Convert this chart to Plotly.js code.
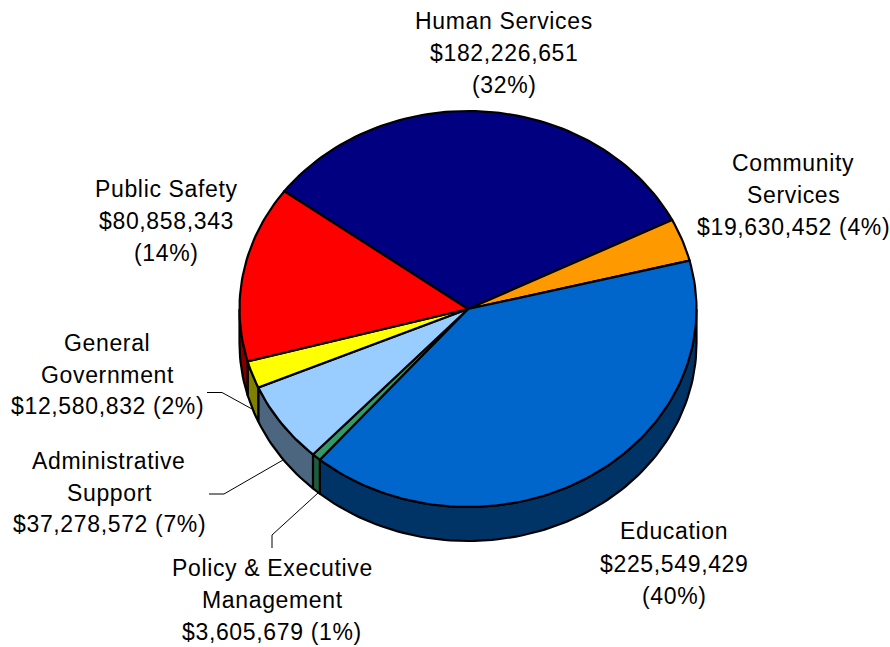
<!DOCTYPE html>
<html><head><meta charset="utf-8">
<script src="https://cdn.plot.ly/plotly-3.0.1.min.js"></script>
<style>html,body{margin:0;padding:0;background:#fff}#c{width:890px;height:647px}
.annotation-text{letter-spacing:.65px}</style>
</head><body><div id="c"></div>
<script>
// Clockwise from Human Services
const categories = ["Human Services","Community Services","Education","Policy & Executive Management","Administrative Support","General Government","Public Safety"];
const budgetValues = [182226651,19630452,225549429,3605679,37278572,12580832,80858343];
const topColors = ["#000080","#FF9900","#0066CC","#339966","#99CCFF","#FFFF00","#FF0000"];
const sideColors = ["#000040","#804D00","#003366","#1F5C3D","#4D6680","#808000","#800000"];
const labelLines = [
 ["Human Services","$182,226,651","(32%)"],
 ["Community","Services","$19,630,452 (4%)"],
 ["Education","$225,549,429","(40%)"],
 ["Policy & Executive","Management","$3,605,679 (1%)"],
 ["Administrative","Support","$37,278,572 (7%)"],
 ["General","Government","$12,580,832 (2%)"],
 ["Public Safety","$80,858,343","(14%)"]
];
// layout in pixels
const W=890,H=647,cx=468,cy=309,rx=228.5,ry=198,depth=34,startDeg=-53.5;
const labelPos=[[504,21],[793,163],[674,531],[272,568],[109,461],[107,343],[166,189]];
const lineGap=[32,32,32.5,32,31.5,31.5,32];
const leaders=[
 [[207,392.5],[222,392.5],[252,409]],
 [[209,494],[224,494],[283,460]],
 [[272,548],[272,535],[318,493]]
];
const px=x=>x/W, py=y=>1-y/H;
const total=budgetValues.reduce((a,b)=>a+b,0);
const pt=(deg,z)=>[Math.sin(deg*Math.PI/180),Math.cos(deg*Math.PI/180)-z];
const z=depth/ry;
function arc(a,b,zz){const n=Math.max(2,Math.ceil(Math.abs(b-a)/1.5));const o=[];for(let i=0;i<=n;i++)o.push(pt(a+(b-a)*i/n,zz));return o;}
const traces=[];
function poly(points,color){
  traces.push({type:"scatter",mode:"lines",x:points.map(p=>p[0]),y:points.map(p=>p[1]),fill:"toself",fillcolor:color,
    line:{color:"#000",width:2.2,shape:"linear"},hoverinfo:"skip",showlegend:false});
}
let a=startDeg; const spans=budgetValues.map(v=>{const s=[a,a+v/total*360];a=s[1];return s;});
// side walls: only the front half (90°..270°) is visible
spans.forEach((s,i)=>{
  const lo=Math.max(s[0],90),hi=Math.min(s[1],270);
  if(hi>lo) poly(arc(lo,hi,0).concat(arc(hi,lo,z)).concat([pt(lo,0)]),sideColors[i]);
});
// top faces
spans.forEach((s,i)=>{
  poly([[0,0]].concat(arc(s[0],s[1],0)).concat([[0,0]]),topColors[i]);
});
const annotations=[];
labelLines.forEach((ls,i)=>ls.forEach((t,j)=>annotations.push({
  xref:"paper",yref:"paper",x:px(labelPos[i][0]),y:py(labelPos[i][1]+j*lineGap[i]),text:t,showarrow:false,
  xanchor:"center",yanchor:"middle",font:{family:"Liberation Sans, Arial, sans-serif",size:23,color:"#000"}
})));
const shapes=leaders.map(l=>({type:"path",xref:"paper",yref:"paper",
  path:"M"+l.map(p=>px(p[0])+","+py(p[1])).join(" L"),line:{color:"#000",width:1}}));
const layout={width:W,height:H,margin:{l:0,r:0,t:0,b:0},paper_bgcolor:"#fff",plot_bgcolor:"#fff",showlegend:false,
  xaxis:{visible:false,fixedrange:true,range:[(0-cx)/rx,(W-cx)/rx]},
  yaxis:{visible:false,fixedrange:true,range:[(cy-H)/ry,cy/ry]},
  annotations,shapes};
Plotly.newPlot("c",traces,layout,{displayModeBar:false,staticPlot:true});
</script></body></html>
